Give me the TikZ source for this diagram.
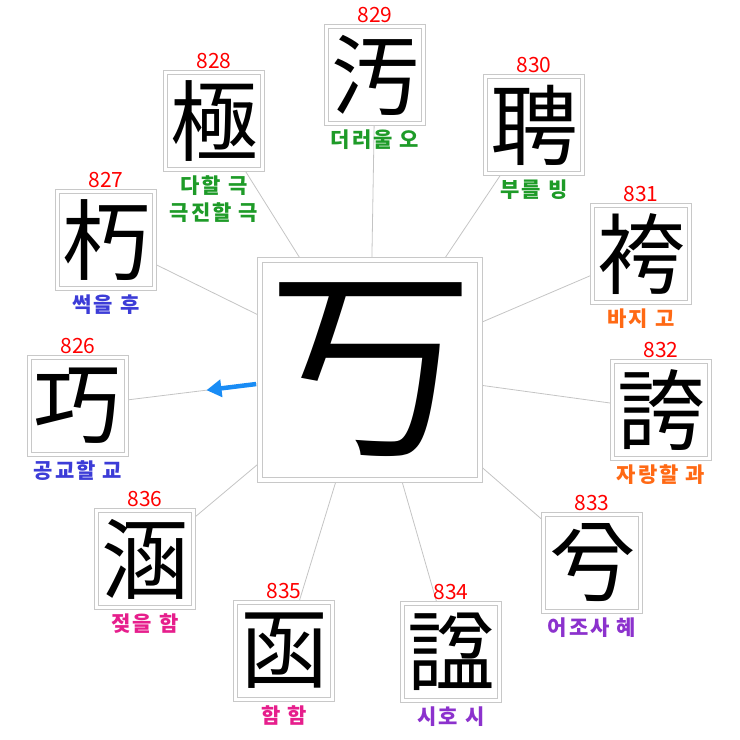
\documentclass[tikz,border=0pt]{standalone}
\usepackage{fontspec}
\newfontfamily\hanja{Noto Sans CJK KR}
\newfontfamily\digits{Noto Sans CJK KR}
\newfontfamily\hangul[LetterSpace=10]{Noto Sans CJK KR}
\usetikzlibrary{positioning,arrows.meta,backgrounds}
\definecolor{boxgray}{RGB}{200,200,200}
\definecolor{linegray}{RGB}{196,196,196}
\definecolor{numred}{RGB}{255,0,0}
\definecolor{kgreen}{RGB}{30,155,40}
\definecolor{kblue}{RGB}{60,60,215}
\definecolor{korange}{RGB}{255,105,20}
\definecolor{kpurple}{RGB}{140,50,205}
\definecolor{kmagenta}{RGB}{230,30,140}
\definecolor{arrowblue}{RGB}{25,140,245}

\begin{document}
\begin{tikzpicture}[
  x=1pt,y=-1pt,
  bigbox/.style={draw=boxgray,double=white,double distance=3.5pt,line width=1pt,fill=white,
    minimum size=220pt,inner sep=0pt,font=\hanja\fontsize{204}{204}\selectfont},
  charbox/.style={draw=boxgray,double=white,double distance=2.5pt,line width=0.9pt,fill=white,
    minimum size=97pt,inner sep=0pt,font=\hanja\fontsize{88}{88}\selectfont},
  num/.style={text=numred,inner sep=1pt,font=\digits\fontsize{21}{21}\selectfont},
  mean/.style={inner sep=1pt,align=center,font=\hangul\bfseries\fontsize{21}{27}\selectfont},
  link/.style={draw=linegray,line width=0.8pt},
  pointer/.style={-{Triangle[length=15pt,width=17pt]},draw=arrowblue,line width=4.5pt}]

  \useasboundingbox (0,0) rectangle (740,740);

  % The character in the middle
  \node[bigbox] (ks) at (370,370) {丂};

  % The characters round it, with their numbers and meanings
  \node[charbox] (k826) at (78,406) {巧};
  \node[num,above=2pt of k826] (n826) {826};
  \node[mean,text=kblue,below=5pt of k826] (m826) {공교할 교};

  \node[charbox] (k827) at (106,240) {朽};
  \node[num,above=2pt of k827] (n827) {827};
  \node[mean,text=kblue,below=5pt of k827] (m827) {썩을 후};

  \node[charbox] (k828) at (214,121) {極};
  \node[num,above=2pt of k828] (n828) {828};
  \node[mean,text=kgreen,below=5pt of k828] (m828) {다할 극\\극진할 극};

  \node[charbox] (k829) at (375,75) {汚};
  \node[num,above=2pt of k829] (n829) {829};
  \node[mean,text=kgreen,below=5pt of k829] (m829) {더러울 오};

  \node[charbox] (k830) at (534,125) {聘};
  \node[num,above=2pt of k830] (n830) {830};
  \node[mean,text=kgreen,below=5pt of k830] (m830) {부를 빙};

  \node[charbox] (k831) at (641,254) {袴};
  \node[num,above=2pt of k831] (n831) {831};
  \node[mean,text=korange,below=5pt of k831] (m831) {바지 고};

  \node[charbox] (k832) at (661,410) {誇};
  \node[num,above=2pt of k832] (n832) {832};
  \node[mean,text=korange,below=5pt of k832] (m832) {자랑할 과};

  \node[charbox] (k833) at (592,563) {兮};
  \node[num,above=2pt of k833] (n833) {833};
  \node[mean,text=kpurple,below=5pt of k833] (m833) {어조사 혜};

  \node[charbox] (k834) at (451,652) {諡};
  \node[num,above=2pt of k834] (n834) {834};
  \node[mean,text=kpurple,below=5pt of k834] (m834) {시호 시};

  \node[charbox] (k835) at (284,651) {函};
  \node[num,above=2pt of k835] (n835) {835};
  \node[mean,text=kmagenta,below=5pt of k835] (m835) {함 함};

  \node[charbox] (k836) at (145,559) {涵};
  \node[num,above=2pt of k836] (n836) {836};
  \node[mean,text=kmagenta,below=5pt of k836] (m836) {젖을 함};

  % Spokes from the middle, behind the boxes
  \begin{scope}[on background layer]
    \draw[link] (ks.center) -- (k826.center);
    \draw[link] (ks.center) -- (k827.center);
    \draw[link] (ks.center) -- (k828.center);
    \draw[link] (ks.center) -- (k829.center);
    \draw[link] (ks.center) -- (k830.center);
    \draw[link] (ks.center) -- (k831.center);
    \draw[link] (ks.center) -- (k832.center);
    \draw[link] (ks.center) -- (k833.center);
    \draw[link] (ks.center) -- (k834.center);
    \draw[link] (ks.center) -- (k835.center);
    \draw[link] (ks.center) -- (k836.center);
  \end{scope}

  % The arrow towards 826
  \path (ks.center) -- (k826.center) coordinate[pos=0.39] (arrowfrom) coordinate[pos=0.56] (arrowto);
  \draw[pointer] (arrowfrom) -- (arrowto);
\end{tikzpicture}
\end{document}
